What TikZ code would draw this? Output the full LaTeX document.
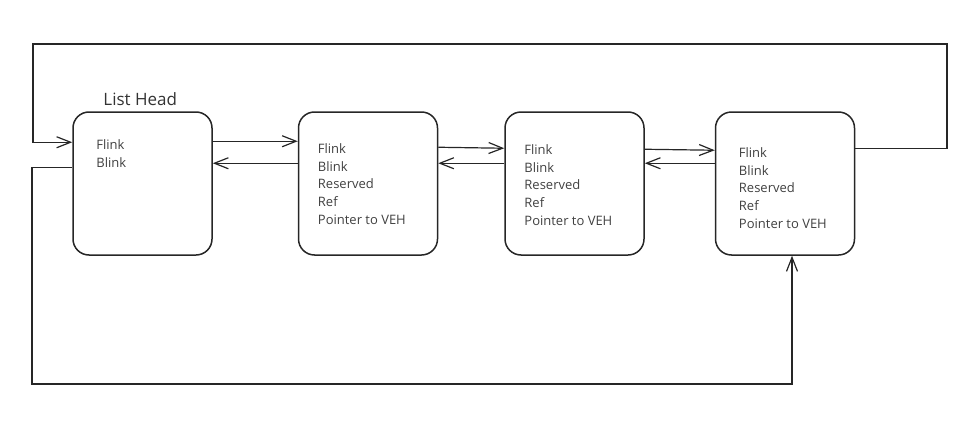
\documentclass[tikz,border=0pt]{standalone}
\usepackage{fontspec}
\setmainfont{Open Sans}
\usepackage{tikz}
\usetikzlibrary{arrows.meta,positioning}
\tikzset{
    %Define standard arrow tip
    >={Straight Barb[length=14pt,width=11pt]},
    %Define style for list entries
    entry/.style={
           rectangle,
           rounded corners=16pt,
           draw=black!85, line width=1.5pt,
           minimum width=139pt,
           minimum height=143pt,
           inner sep=0pt},
    %Define style for the field lines
    fields/.style={
           anchor=north west,
           inner sep=0pt,
           align=left,
           text=black!75,
           font=\fontsize{13}{17.8}\selectfont},
    %Define style for the title
    title/.style={
           anchor=base west,
           inner sep=0pt,
           text=black!80,
           font=\fontsize{17}{20}\selectfont},
    % Define arrow style
    link/.style={
           ->,
           draw=black!85,
           line width=1.2pt}
}

\begin{document}
\begin{tikzpicture}[node distance=85pt]
\useasboundingbox (0pt,0pt) rectangle (973pt,-428pt);
\node[entry](head) at (142.5pt,-183.5pt) {};
\node[entry, right=85pt of head](vehA) {};
\node[entry, right=66pt of vehA](vehB) {};
\node[entry, right=70pt of vehB](vehC) {};
\node[title] (title) at ([shift={(31pt,6pt)}]head.north west) {List Head};
\node[fields] (headF) at ([shift={(24pt,-28pt)}]head.north west) {Flink\\Blink};
\node[fields] (vehAF) at ([shift={(20pt,-32pt)}]vehA.north west) {Flink\\Blink\\Reserved\\Ref\\Pointer to VEH};
\node[fields] (vehBF) at ([shift={(20pt,-33pt)}]vehB.north west) {Flink\\Blink\\Reserved\\Ref\\Pointer to VEH};
\node[fields] (vehCF) at ([shift={(24pt,-36pt)}]vehC.north west) {Flink\\Blink\\Reserved\\Ref\\Pointer to VEH};
% forward and backward links
\draw[link] ([yshift=-30pt]head.north east) -- ([yshift=-30pt]vehA.north west);
\draw[link] ([yshift=-52pt]vehA.north west) -- ([yshift=-52pt]head.north east);
\draw[link] ([yshift=-36pt]vehA.north east) -- ([yshift=-37pt]vehB.north west);
\draw[link] ([yshift=-52pt]vehB.north west) -- ([yshift=-52pt]vehA.north east);
\draw[link] ([yshift=-38pt]vehB.north east) -- ([yshift=-39pt]vehC.north west);
\draw[link] ([yshift=-52pt]vehC.north west) -- ([yshift=-52pt]vehB.north east);
% wrap-around links
\coordinate (topR) at (947pt,-44pt);
\coordinate (topL) at (33pt,-44pt);
\coordinate (botL) at (32pt,-384pt);
\draw[link] ([yshift=-37pt]vehC.north east) -| (topR) -- (topL) |- ([yshift=-31pt]head.north west);
\draw[link] ([yshift=-56pt]head.north west) -| (botL) -| ([xshift=7pt]vehC.south);
\end{tikzpicture}
\end{document}
